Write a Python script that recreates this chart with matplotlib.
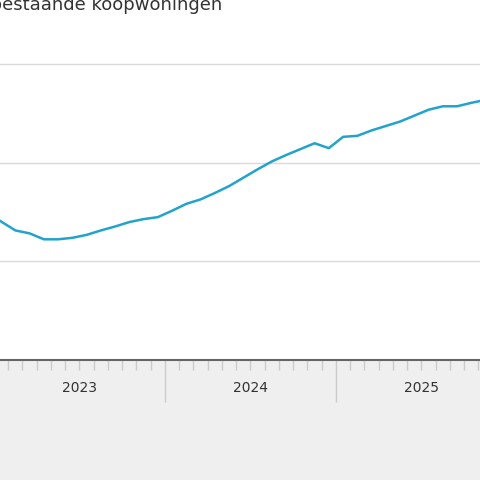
import matplotlib
matplotlib.use("Agg")
import matplotlib.pyplot as plt
import matplotlib.transforms as mtransforms
import numpy as np

# Monthly price index (Dec 2022 .. Nov 2025), month index 0 = Jan 2023
months = list(range(-1, 35))
index_values = [110.0, 108.1, 106.3, 105.7, 104.5, 104.5, 104.8, 105.4, 106.3, 107.1, 108.0, 108.6, 109.0,
                110.3, 111.7, 112.6, 113.9, 115.3, 117.0, 118.7, 120.3, 121.6, 122.8, 124.0, 123.0,
                125.3, 125.5, 126.6, 127.5, 128.4, 129.6, 130.8, 131.5, 131.5, 132.2, 132.8]
year_labels = ["2023", "2024", "2025"]
gridlines = [80, 100, 120, 140]
title = "Prijsindex bestaande koopwoningen"

fig = plt.figure(figsize=(4.8, 4.8), dpi=100)
fig.patch.set_facecolor("white")
band = plt.Rectangle((0, 0), 1, 120/480, transform=fig.transFigure,
                     facecolor="#efefef", edgecolor="none", zorder=-5)
fig.add_artist(band)
ax = fig.add_axes([0, 120/480, 1, 335/480])
ax.set_zorder(2)
ax.set_facecolor("none")
x = np.array(months) + 0.5
ax.plot(x, index_values, color="#23a3cc", lw=1.8, zorder=3)
ax.set_xlim(0.421, 34.11)
ax.set_ylim(80, 148.0)
for g in gridlines[1:]:
    ax.axhline(g, color="#d9d9d9", lw=1, zorder=1)
for s in ["top", "left", "right"]:
    ax.spines[s].set_visible(False)
ax.spines["bottom"].set_color("#666666")
ax.spines["bottom"].set_linewidth(1.5)
ax.set_yticks([])
ax.set_xticks([12, 24])
ax.set_xticks([m for m in range(1, 35) if m % 12], minor=True)
ax.tick_params(axis="x", which="major", length=30, color="#cccccc", width=1, labelbottom=False)
ax.tick_params(axis="x", which="minor", length=7, color="#cccccc", width=1)
trans = mtransforms.blended_transform_factory(ax.transData, fig.transFigure)
for i, lab in enumerate(year_labels):
    ax.text(6 + 12*i, 1 - 388/480, lab, transform=trans, ha="center", va="center",
            fontsize=10, color="#333333")
fig.text(222/480, 1 - 5/480, title, ha="right", va="center", fontsize=13, color="#333333")
fig.savefig("out.png", dpi=100)
